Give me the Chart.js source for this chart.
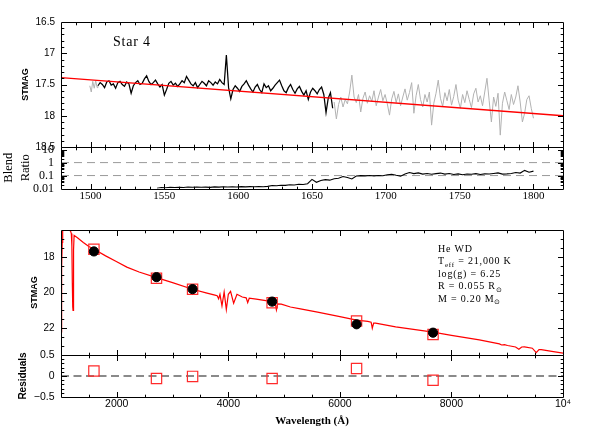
<!DOCTYPE html>
<html><head><meta charset="utf-8">
<script src="https://cdn.jsdelivr.net/npm/chart.js@4/dist/chart.umd.min.js"></script>
<style>
html,body{margin:0;padding:0;background:#fff;}
#wrap{position:relative;width:598px;height:447px;overflow:hidden;}
#wrap canvas{position:absolute;left:0;top:0;}
</style></head><body>
<div id="wrap">
<canvas id="c1" width="598" height="447"></canvas>
<canvas id="c2" width="598" height="447"></canvas>
<canvas id="c3" width="598" height="447"></canvas>
<canvas id="c4" width="598" height="447"></canvas>
</div>
<script>
// ---------------- DATA ----------------
// Panel 1: UV spectrum (STMAG), sampled every 1.5 A
const specBlackStart = 1505, specBlackStep = 1.5;
const specBlack = [17.52,17.47,17.50,17.55,17.46,17.44,17.51,17.49,17.56,17.47,
17.45,17.50,17.53,17.46,17.49,17.64,17.52,17.47,17.44,17.50,
17.48,17.41,17.36,17.45,17.50,17.47,17.43,17.49,17.54,17.50,
17.67,17.58,17.48,17.45,17.51,17.48,17.53,17.49,17.44,17.47,
17.37,17.43,17.49,17.52,17.47,17.55,17.50,17.45,17.48,17.52,
17.44,17.47,17.51,17.46,17.49,17.42,17.47,17.50,17.03,17.55,
17.73,17.58,17.52,17.56,17.61,17.53,17.49,17.44,17.51,17.57,
17.62,17.54,17.50,17.58,17.63,17.49,17.55,17.52,17.60,17.56,
17.51,17.47,17.43,17.52,17.60,17.63,17.55,17.50,17.58,17.64,
17.57,17.53,17.61,17.67,17.60,17.74,17.62,17.56,17.60,17.65,
17.58,17.54,17.66,17.95,17.72,17.63,17.88];
const specGrayStart = 1665, specGrayStep = 1.5;
const specGray = [17.78,18.05,17.82,17.70,17.86,17.74,17.81,17.62,17.35,17.70,
17.79,17.66,17.94,17.72,17.62,17.80,17.68,17.77,17.60,17.84,
17.70,17.58,17.76,17.66,17.81,17.99,17.73,17.61,17.79,17.65,
17.84,17.70,17.57,17.75,17.63,17.47,17.96,17.68,17.50,17.74,
17.86,17.66,17.78,17.62,18.15,17.80,17.64,17.43,17.72,17.85,
17.63,17.76,17.58,17.83,17.69,17.50,17.75,17.88,17.66,17.79,
17.60,17.74,17.87,17.65,17.56,17.78,17.68,17.84,17.62,17.40,
17.76,18.10,17.70,17.85,17.64,18.31,17.80,17.62,17.76,17.90,
17.66,17.82,17.70,17.52,17.78,18.10,17.96,17.74,17.68,17.88,18.04];
const edgeGrayWave = [1499.5,1500.5,1501.5,1502.5,1503.5,1504.5,1505];
const edgeGrayMag  = [17.52,17.62,17.45,17.56,17.44,17.55,17.52];
const fitWave = [1480, 1820];
const fitMag  = [17.39, 18.00];
const p1YTicks = [16.5, 17, 17.5, 18, 18.5];

// Panel 2: blend ratio, sampled every 3 A
const blendStart = 1545, blendStep = 3;
const blendRatio = [0.0105,0.0120,0.0115,0.0125,0.0118,0.0126,0.0121,0.0130,0.0124,0.0132,
0.0125,0.0128,0.0123,0.0133,0.0127,0.0135,0.0129,0.0137,0.0131,0.0139,
0.0133,0.0140,0.0136,0.0142,0.0138,0.0145,0.0170,0.0163,0.0180,0.0175,
0.0195,0.0188,0.0210,0.0205,0.0235,0.0510,0.0300,0.0420,0.0480,0.0440,
0.0560,0.0620,0.0850,0.0700,0.0540,0.0920,0.0980,0.0940,0.1000,0.0950,
0.1020,0.0970,0.1150,0.1250,0.1050,0.0900,0.1300,0.1700,0.1400,0.1600,
0.1300,0.1450,0.1250,0.1400,0.1550,0.1300,0.1450,0.1200,0.1350,0.1150,
0.1300,0.1250,0.1400,0.1200,0.1350,0.1300,0.1450,0.1600,0.1300,0.1350,
0.1450,0.1700,0.1550,0.2500,0.1800,0.2200];
const blendRefLevels = [1, 0.1];
const p12XTicks = [1500, 1550, 1600, 1650, 1700, 1750, 1800];
const p2YTicks = [0.01, 0.1, 1, 10];

// Panel 3: SED model and photometry
const modelWave = [1000,1008,1015,1022,1030,1060,1120,1170,1185,1195,1203,1210,1216,1222,1228,1235,
1300,1400,1500,1593,1800,2000,2180,2400,2712,3000,3359,3600,3760,3800,3826,3850,3886,3925,3964,
4000,4040,4095,4155,4250,4320,4347,4375,4500,4700,4785,4840,4862,4885,4950,5113,5293,5600,6000,
6299,6500,6560,6581,6605,6640,7000,7670,8000,8500,8860,8900,8950,9006,9150,9209,9260,9310,9450,
9520,9570,9610,9800,10000];
const modelMag = [22.2,20.5,18.6,17.2,16.55,16.45,16.45,16.55,16.7,17.4,19.5,20.8,21.0,19.2,17.6,16.8,
16.95,17.2,17.42,17.58,17.95,18.28,18.58,18.85,19.17,19.45,19.82,20.02,20.15,20.18,20.35,20.1,20.75,19.97,20.95,
20.1,19.94,20.6,20.1,20.25,20.3,20.57,20.32,20.37,20.47,20.52,20.6,20.98,20.64,20.65,20.81,20.92,21.1,21.35,
21.55,21.62,21.66,22.0,21.72,21.72,21.92,22.22,22.4,22.65,22.88,22.94,22.92,22.97,23.05,23.18,23.05,23.04,23.12,
23.37,23.2,23.2,23.3,23.4];
const bandWave  = [1590, 2712, 3359, 4785, 6299, 7670];
const bandObs   = [17.70, 19.14, 19.81, 20.51, 21.78, 22.25];
const bandModel = [17.58, 19.20, 19.82, 20.57, 21.60, 22.35];
const bandResid = [0.12, -0.06, -0.01, -0.06, 0.18, -0.10];
const residZero = 0;
const p34XTicks = [2000, 4000, 6000, 8000, 10000];
const p3YTicks = [18, 20, 22];
const p4YTicks = [-0.5, 0, 0.5];

// ---------------- HELPERS ----------------
const SANS = "'Liberation Sans', Arial, sans-serif";
const SERIF = "'Liberation Serif', 'Times New Roman', serif";
const RED = '#ff0000', GRAY = '#b2b2b2', DASH = '#8a8a8a';

const sampled = (start, step, vals) => vals.map((v, i) => ({x: +(start + i * step).toFixed(2), y: v}));
const paired = (xs, ys) => xs.map((x, i) => ({x, y: ys[i]}));
const range = (a, b, s) => { const r = []; for (let v = a; v <= b + 1e-9; v += s) r.push(+v.toFixed(4)); return r; };
const minus = (arr, rem) => arr.filter(v => !rem.some(r => Math.abs(r - v) < 1e-6));

function makeFrame(spec) {
  return {
    id: 'frame',
    afterDraw(chart) {
      const {ctx, chartArea: a} = chart;
      const xs = chart.scales.x, ys = chart.scales.y;
      const L = Math.round(a.left) + 0.5, R = Math.round(a.right) + 0.5;
      const T = Math.round(a.top) + 0.5, B = Math.round(a.bottom) + 0.5;
      ctx.save();
      ctx.strokeStyle = '#000';
      ctx.lineWidth = 1;
      ctx.beginPath();
      ctx.rect(L, T, R - L, B - T);
      ctx.stroke();
      const drawX = (vals, len) => vals.forEach(v => {
        const p = Math.round(xs.getPixelForValue(v)) + 0.5;
        if (p <= L + 0.5 || p >= R - 0.5) return;
        ctx.beginPath();
        ctx.moveTo(p, B); ctx.lineTo(p, B - len);
        ctx.moveTo(p, T); ctx.lineTo(p, T + len);
        ctx.stroke();
      });
      const drawY = (vals, len) => vals.forEach(v => {
        const p = Math.round(ys.getPixelForValue(v)) + 0.5;
        if (p <= T + 0.5 || p >= B - 0.5) return;
        ctx.beginPath();
        ctx.moveTo(L, p); ctx.lineTo(L + len, p);
        ctx.moveTo(R, p); ctx.lineTo(R - len, p);
        ctx.stroke();
      });
      drawX(spec.xMinor, 2.8); drawX(spec.xMajor, 5.5);
      drawY(spec.yMinor, 2.8); drawY(spec.yMajor, 5.5);
      ctx.restore();
    }
  };
}

function makeNotes(def) {
  return {
    id: 'notes',
    afterDraw(chart) {
      const ctx = chart.ctx;
      ctx.save();
      ctx.fillStyle = '#000';
      ctx.textAlign = 'left';
      ctx.textBaseline = 'alphabetic';
      if ('letterSpacing' in ctx) ctx.letterSpacing = def.spacing + 'px';
      def.lines.forEach(line => {
        let x = line.x;
        line.parts.forEach(p => {
          ctx.font = (p.sub ? def.subSize : def.size) + 'px ' + def.family;
          ctx.fillText(p.t, x, line.y + (p.sub ? def.subShift : 0));
          x += ctx.measureText(p.t).width;
        });
      });
      ctx.restore();
    }
  };
}

function yAxis(o) {
  return {
    type: o.type || 'linear', min: o.min, max: o.max, reverse: !!o.reverse,
    afterFit: s => { s.width = 61; },
    afterBuildTicks: s => { s.ticks = o.ticks.map(v => ({value: v})); },
    grid: {display: false, drawTicks: false}, border: {display: false},
    ticks: {autoSkip: false, padding: o.pad, color: '#000', font: o.font, callback: o.fmt || (v => String(v))},
    title: {display: true, text: o.title, color: '#000', font: o.titleFont, padding: {top: o.titlePad, bottom: 0}}
  };
}
function xAxis(o) {
  const ax = {
    type: 'linear', min: o.min, max: o.max, display: o.display !== false,
    grid: {display: false, drawTicks: false}, border: {display: false}
  };
  if (o.display !== false) {
    ax.afterFit = s => { s.height = o.height; };
    ax.afterBuildTicks = s => { s.ticks = o.ticks.map(v => ({value: v})); };
    ax.ticks = {autoSkip: false, maxRotation: 0, minRotation: 0, padding: 1, color: '#000', font: o.font, callback: o.fmt || (v => String(v))};
    if (o.title) ax.title = {display: true, text: o.title, color: '#000', font: o.titleFont, padding: {top: 0, bottom: o.titlePad}};
  }
  return ax;
}
function opts(top, bottom, x, y) {
  return {
    responsive: false, animation: false, events: [],
    layout: {padding: {left: 0, right: 35, top: top, bottom: bottom}},
    plugins: {legend: {display: false}, tooltip: {enabled: false}},
    scales: {x: x, y: y}
  };
}
const lineDs = (data, color, width, dash) => ({
  type: 'scatter', data, showLine: true, borderColor: color, borderWidth: width,
  borderDash: dash || [], pointRadius: 0, pointHoverRadius: 0, fill: false, tension: 0
});

// ---------------- PANEL 1 ----------------
new Chart(document.getElementById('c1'), {
  type: 'scatter',
  data: {datasets: [
    lineDs(paired(fitWave, fitMag), RED, 1.3),
    lineDs(sampled(specBlackStart, specBlackStep, specBlack), '#000', 1.25),
    lineDs(paired(edgeGrayWave, edgeGrayMag), GRAY, 1),
    lineDs(sampled(specGrayStart, specGrayStep, specGray), GRAY, 1)
  ]},
  options: opts(22, 300, xAxis({min: 1480, max: 1820, display: false}),
    yAxis({min: 16.5, max: 18.5, reverse: true, ticks: p1YTicks, pad: 6,
      font: {family: SANS, size: 10}, title: 'STMAG',
      titleFont: {family: SANS, size: 9, weight: 'bold'}, titlePad: 20.6})),
  plugins: [
    makeFrame({xMajor: p12XTicks, xMinor: minus(range(1480, 1820, 10), p12XTicks),
               yMajor: p1YTicks, yMinor: minus(range(16.5, 18.5, 0.1), p1YTicks)}),
    makeNotes({family: SERIF, size: 14, subSize: 10, subShift: 3, spacing: 0.8,
               lines: [{x: 113, y: 46, parts: [{t: 'Star 4'}]}]})
  ]
});

// ---------------- PANEL 2 ----------------
const logMinor = [];
[0.01, 0.1, 1].forEach(d => { for (let k = 2; k <= 9; k++) logMinor.push(+(d * k).toFixed(4)); });
new Chart(document.getElementById('c2'), {
  type: 'scatter',
  data: {datasets: [
    lineDs(sampled(blendStart, blendStep, blendRatio), '#000', 1.1),
    ...blendRefLevels.map(v => lineDs([{x: 1480, y: v}, {x: 1820, y: v}], '#9a9a9a', 1, [8, 5]))
  ]},
  options: opts(147, 238.5,
    xAxis({min: 1480, max: 1820, ticks: p12XTicks, height: 20, font: {family: SERIF, size: 11}}),
    yAxis({type: 'logarithmic', min: 0.01, max: 16, ticks: p2YTicks, pad: 7,
      font: {family: SERIF, size: 12}, title: ['Blend', 'Ratio'],
      titleFont: {family: SERIF, size: 12.5, lineHeight: 1.385}, titlePad: 0})),
  plugins: [
    makeFrame({xMajor: p12XTicks, xMinor: minus(range(1480, 1820, 10), p12XTicks),
               yMajor: p2YTicks, yMinor: logMinor})
  ]
});

// ---------------- PANEL 3 ----------------
new Chart(document.getElementById('c3'), {
  type: 'scatter',
  data: {datasets: [
    {type: 'scatter', data: paired(bandWave, bandObs), pointStyle: 'circle', pointRadius: 4.6,
     backgroundColor: '#000', borderColor: '#000', borderWidth: 1, pointHoverRadius: 4.6},
    {type: 'scatter', data: paired(bandWave, bandModel), pointStyle: 'rect', pointRadius: 7.3,
     backgroundColor: 'rgba(0,0,0,0)', borderColor: '#ff2a2a', borderWidth: 1.2, pointHoverRadius: 7.3},
    lineDs(paired(modelWave, modelMag), RED, 1.2)
  ]},
  options: opts(230, 92, xAxis({min: 1000, max: 10000, display: false}),
    yAxis({min: 16.5, max: 23.5, reverse: true, ticks: p3YTicks, pad: 6.5,
      font: {family: SANS, size: 10}, title: 'STMAG',
      titleFont: {family: SANS, size: 9, weight: 'bold'}, titlePad: 29.6})),
  plugins: [
    makeFrame({xMajor: p34XTicks, xMinor: minus(range(1000, 10000, 500), p34XTicks),
               yMajor: p3YTicks, yMinor: minus(range(16.5, 23.5, 0.5), p3YTicks)}),
    makeNotes({family: SERIF, size: 10, subSize: 7, subShift: 2.5, spacing: 0.8,
      lines: [
        {x: 438, y: 251.7, parts: [{t: 'He WD'}]},
        {x: 438, y: 264.3, parts: [{t: 'T'}, {t: 'eff', sub: true}, {t: ' = 21,000 K'}]},
        {x: 438, y: 276.6, parts: [{t: 'log(g) = 6.25'}]},
        {x: 438, y: 289.0, parts: [{t: 'R = 0.055 R'}, {t: '\u2299', sub: true}]},
        {x: 438, y: 301.5, parts: [{t: 'M = 0.20 M'}, {t: '\u2299', sub: true}]}
      ]})
  ]
});

// ---------------- PANEL 4 ----------------
new Chart(document.getElementById('c4'), {
  type: 'scatter',
  data: {datasets: [
    {type: 'scatter', data: paired(bandWave, bandResid), pointStyle: 'rect', pointRadius: 7.3,
     backgroundColor: 'rgba(0,0,0,0)', borderColor: '#ff2a2a', borderWidth: 1.2, pointHoverRadius: 7.3},
    lineDs([{x: 1000, y: residZero}, {x: 10000, y: residZero}], DASH, 1.8, [8, 4.5])
  ]},
  options: opts(355, 0,
    xAxis({min: 1000, max: 10000, ticks: p34XTicks, height: 50, font: {family: SANS, size: 10.5},
      fmt: v => (v === 10000 ? '10\u2074' : String(v)),
      title: 'Wavelength (\u00c5)', titleFont: {family: SERIF, size: 11, weight: 'bold'}, titlePad: 19.4}),
    yAxis({min: -0.5, max: 0.5, ticks: p4YTicks, pad: 6.5,
      font: {family: SANS, size: 10.5}, fmt: v => (v < 0 ? '\u2212' + Math.abs(v) : String(v)),
      title: 'Residuals', titleFont: {family: SANS, size: 10, weight: 'bold'}, titlePad: 17.7})),
  plugins: [
    makeFrame({xMajor: p34XTicks, xMinor: minus(range(1000, 10000, 500), p34XTicks),
               yMajor: p4YTicks, yMinor: minus(range(-0.5, 0.5, 0.1), p4YTicks)})
  ]
});
</script>
</body></html>
